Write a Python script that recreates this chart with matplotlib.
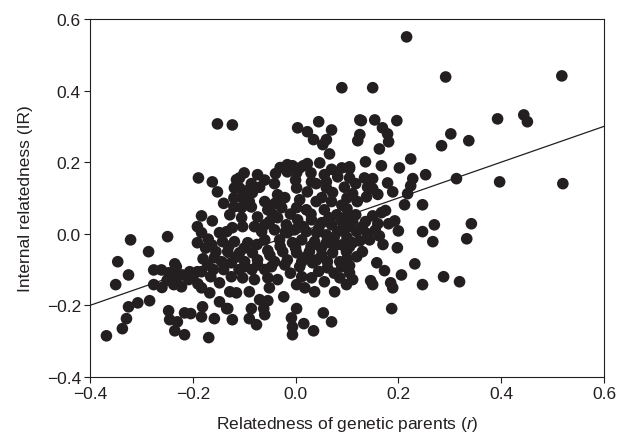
"""Scatter of internal relatedness vs relatedness of genetic parents."""

import numpy as np
import matplotlib
matplotlib.use("Agg")
import matplotlib.pyplot as plt

# upper sparse points
r_top = [-0.152, -0.123, 0.090, 0.045, 0.004, 0.023, 0.035, 0.070, 0.060, 0.053,
         0.125, 0.125, 0.121, 0.216, 0.292, 0.150, 0.128, 0.154, 0.197, 0.169,
         0.179, 0.181, 0.163, 0.302, 0.284, 0.337, 0.518, 0.393, 0.444, 0.451,
         0.066]
ir_top = [0.307, 0.304, 0.408, 0.313, 0.296, 0.285, 0.263, 0.290, 0.263, 0.249,
          0.318, 0.277, 0.260, 0.550, 0.438, 0.408, 0.316, 0.318, 0.316, 0.296,
          0.279, 0.257, 0.237, 0.279, 0.246, 0.260, 0.441, 0.321, 0.332, 0.313,
          0.223]

# right middle
r_right = [0.224, 0.136, 0.105, 0.167, 0.202, 0.253, 0.313, 0.134, 0.150, 0.117,
           0.228, 0.224, 0.179, 0.189, 0.218, 0.111, 0.138, 0.150, 0.212, 0.247,
           0.117, 0.167, 0.136, 0.193, 0.160, 0.181, 0.270, 0.342, 0.200, 0.247,
           0.105, 0.119, 0.140, 0.163, 0.144, 0.267, 0.333, 0.198, 0.105, 0.158,
           0.232, 0.397, 0.520]
ir_right = [0.209, 0.201, 0.187, 0.190, 0.184, 0.165, 0.154, 0.156, 0.154, 0.140,
            0.154, 0.134, 0.142, 0.117, 0.112, 0.112, 0.103, 0.126, 0.081, 0.081,
            0.053, 0.059, 0.034, 0.036, 0.028, 0.028, 0.025, 0.028, 0.008, 0.006,
            0.020, 0.006, 0.000, -0.006, -0.017, -0.022, -0.014, -0.039, -0.036, -0.081,
            -0.084, 0.145, 0.140]

# lower right
r_lowright = [0.105, 0.111, 0.173, 0.146, 0.150, 0.206, 0.185, 0.189, 0.247, 0.288,
              0.319, 0.187, 0.105]
ir_lowright = [-0.109, -0.128, -0.103, -0.131, -0.142, -0.115, -0.137, -0.151, -0.142, -0.120,
               -0.134, -0.209, -0.089]

# lower centre
r_bottom = [-0.023, 0.002, -0.008, -0.006, -0.006, 0.016, 0.035, 0.054, 0.070, -0.070,
            -0.054, -0.062, -0.060, -0.086, -0.090, -0.076, -0.123, -0.132, 0.099, 0.076,
            0.037, 0.018, 0.002, -0.051, -0.090, -0.115,
            -0.125, -0.099, -0.074, -0.047, -0.021, 0.008, 0.033, 0.062, 0.090,
            -0.125, -0.103, -0.080, -0.054, -0.035, 0.012, 0.031, 0.056, 0.086]
ir_bottom = [-0.176, -0.209, -0.235, -0.260, -0.282, -0.251, -0.271, -0.221, -0.246, -0.184,
             -0.187, -0.209, -0.226, -0.209, -0.237, -0.254, -0.240, -0.209, -0.142, -0.162,
             -0.162, -0.151, -0.142, -0.151, -0.162, -0.165,
             -0.081, -0.092, -0.087, -0.092, -0.087, -0.092, -0.081, -0.095, -0.092,
             -0.120, -0.123, -0.128, -0.123, -0.128, -0.120, -0.123, -0.134, -0.123]

# lower left
r_lowleft = [-0.346, -0.325, -0.350, -0.276, -0.261, -0.247, -0.232, -0.276, -0.237, -0.222,
             -0.220, -0.206, -0.191, -0.208, -0.307, -0.325, -0.284, -0.329, -0.337, -0.368,
             -0.247, -0.245, -0.230, -0.235, -0.216, -0.216, -0.204, -0.181, -0.183, -0.158,
             -0.169, -0.148, -0.134, -0.183, -0.167, -0.148, -0.183, -0.171, -0.128]
ir_lowleft = [-0.078, -0.115, -0.142, -0.101, -0.101, -0.109, -0.092, -0.142, -0.142, -0.148,
              -0.115, -0.106, -0.106, -0.128, -0.193, -0.204, -0.187, -0.237, -0.265, -0.285,
              -0.215, -0.240, -0.246, -0.271, -0.282, -0.221, -0.223, -0.204, -0.232, -0.237,
              -0.290, -0.190, -0.209, -0.151, -0.165, -0.137, -0.106, -0.087, -0.162]

# left middle
r_left = [-0.189, -0.162, -0.152, -0.115, -0.119, -0.183, -0.162, -0.128, -0.191, -0.183,
          -0.191, -0.249, -0.321, -0.286, -0.235, -0.163, -0.148, -0.134, -0.142, -0.158,
          -0.132, -0.144]
ir_left = [0.156, 0.145, 0.117, 0.151, 0.128, 0.050, 0.036, 0.053, 0.020, 0.003,
           -0.025, -0.008, -0.017, -0.050, -0.084, -0.031, 0.003, 0.006, -0.022, -0.067,
           -0.050, -0.078]

# dense centre
r_centre = [-0.016, -0.006, 0.008, 0.023, 0.047, -0.016, 0.002, 0.056, 0.090, 0.105,
            0.082, 0.105, -0.074, -0.109, -0.039, -0.041, -0.086, -0.109, -0.084, 0.031,
            0.002, 0.023, -0.035, -0.021, 0.008, 0.051, 0.072, 0.060, -0.105, -0.086,
            -0.105, -0.054, -0.027, 0.002, 0.021, 0.056, 0.080, 0.101, -0.074, -0.051,
            -0.035, -0.018, 0.004, 0.031, 0.051, 0.070, 0.090, 0.111, -0.080, -0.103,
            -0.123, -0.066, -0.041, -0.016, -0.002, 0.021, 0.041, 0.060, 0.082, -0.119,
            -0.093, -0.060, -0.031, -0.006, 0.012, 0.037, 0.060, 0.090, 0.111, -0.109,
            -0.084, -0.054, -0.025, 0.002, 0.027, 0.051, 0.072, 0.099, 0.119, -0.099,
            -0.074, -0.041, -0.016, 0.012, 0.041, 0.062, 0.086]
ir_centre = [0.193, 0.190, 0.184, 0.196, 0.198, 0.173, 0.170, 0.165, 0.184, 0.182,
             0.159, 0.156, 0.165, 0.156, 0.168, 0.140, 0.140, 0.128, 0.115, 0.145,
             0.128, 0.117, 0.109, 0.101, 0.095, 0.101, 0.115, 0.128, 0.101, 0.075,
             0.073, 0.067, 0.073, 0.073, 0.067, 0.067, 0.053, 0.053, 0.047, 0.034,
             0.045, 0.025, 0.039, 0.039, 0.031, 0.025, 0.034, 0.034, 0.020, 0.020,
             0.017, 0.006, 0.011, 0.003, 0.011, 0.006, 0.003, -0.003, 0.006, -0.022,
             -0.025, -0.017, -0.017, -0.025, -0.017, -0.022, -0.025, -0.031, -0.025, -0.053,
             -0.053, -0.047, -0.050, -0.053, -0.050, -0.059, -0.053, -0.050, -0.064, -0.078,
             -0.073, -0.078, -0.073, -0.078, -0.073, -0.078, -0.078]

# overlapping points hidden inside the solid central blobs
r_overlap = [-0.095, -0.070, -0.060, -0.100, -0.060, -0.120, -0.090,
             0.000, 0.030, 0.015, -0.030, 0.040, 0.060, 0.070,
             0.040, 0.070, 0.090, 0.030, 0.065, 0.090, 0.100, 0.015, 0.045, 0.075, 0.100,
             -0.040, -0.010, -0.045, -0.020, -0.060, -0.030,
             -0.130, -0.100, -0.075, -0.050, -0.115, -0.085, -0.060, -0.140, -0.160, -0.110,
             -0.030, 0.000, 0.030, 0.050, 0.075, 0.100, 0.020, -0.010, 0.045, 0.075,
             -0.230, -0.200, -0.190, -0.165, -0.250, -0.260,
             0.130, 0.125, 0.130, 0.155, 0.170, 0.150, 0.175,
             0.120, 0.140, 0.160, 0.095, 0.100,
             -0.140, -0.120, -0.105,
             -0.175, -0.170, -0.155, -0.180]
ir_overlap = [0.120, 0.130, 0.150, 0.170, 0.090, 0.100, 0.090,
              0.150, 0.170, 0.190, 0.185, 0.140, 0.145, 0.180,
              0.090, 0.090, 0.080, 0.055, 0.045, 0.010, 0.070, 0.020, 0.015, -0.010, -0.010,
              0.085, 0.055, 0.055, 0.005, 0.025, 0.090,
              -0.035, -0.040, -0.030, -0.060, -0.065, -0.100, -0.100, -0.100, -0.100, -0.100,
              -0.035, -0.040, -0.035, -0.040, -0.035, -0.070, -0.065, -0.110, -0.105, -0.110,
              -0.120, -0.120, -0.140, -0.120, -0.130, -0.150,
              0.020, -0.020, -0.050, 0.010, -0.030, 0.050, 0.065,
              0.090, 0.130, 0.110, 0.130, 0.100,
              0.085, 0.075, 0.045,
              -0.040, -0.015, -0.050, -0.070]

# fitted regression line
fit_slope = 0.5
fit_intercept = 0.0

x_ticks = [-0.4, -0.2, 0.0, 0.2, 0.4, 0.6]
y_ticks = [-0.4, -0.2, 0.0, 0.2, 0.4, 0.6]

plt.rcParams['font.family'] = ['Liberation Sans', 'DejaVu Sans']
plt.rcParams['mathtext.fontset'] = 'custom'
plt.rcParams['mathtext.it'] = 'Liberation Sans:italic'
plt.rcParams['mathtext.rm'] = 'Liberation Sans'

r_all = np.concatenate([r_top, r_right, r_lowright, r_bottom, r_lowleft, r_left,
                        r_centre, r_overlap])
ir_all = np.concatenate([ir_top, ir_right, ir_lowright, ir_bottom, ir_lowleft, ir_left,
                         ir_centre, ir_overlap])

fig = plt.figure(figsize=(6.18, 4.39), dpi=100)
ax = fig.add_axes([0.1456, 0.139, 0.8317, 0.8155])

ax.scatter(r_all, ir_all, s=70, color='#231f20', edgecolors='none', zorder=2)

xl = np.array([-0.4, 0.6])
ax.plot(xl, fit_slope * xl + fit_intercept, color='#231f20', linewidth=0.9, zorder=3)

ax.set_xlim(-0.4, 0.6)
ax.set_ylim(-0.4, 0.6)
ax.set_xticks(x_ticks)
ax.set_yticks(y_ticks)
ax.set_xticklabels([f"{t:.1f}".replace('-', '\u2212') for t in x_ticks])
ax.set_yticklabels([f"{t:.1f}".replace('-', '\u2212') for t in y_ticks])
ax.tick_params(direction='out', length=4.5, width=0.8, labelsize=12.5, pad=2,
               colors='#231f20')
for sp in ax.spines.values():
    sp.set_linewidth(0.8)
    sp.set_color('#231f20')

ax.set_xlabel(r"Relatedness of genetic parents ($\it{r}$)", fontsize=12.5,
              color='#231f20', labelpad=9)
ax.set_ylabel("Internal relatedness (IR)", fontsize=12.5, color='#231f20', labelpad=10)

fig.savefig("out.png", dpi=100)
